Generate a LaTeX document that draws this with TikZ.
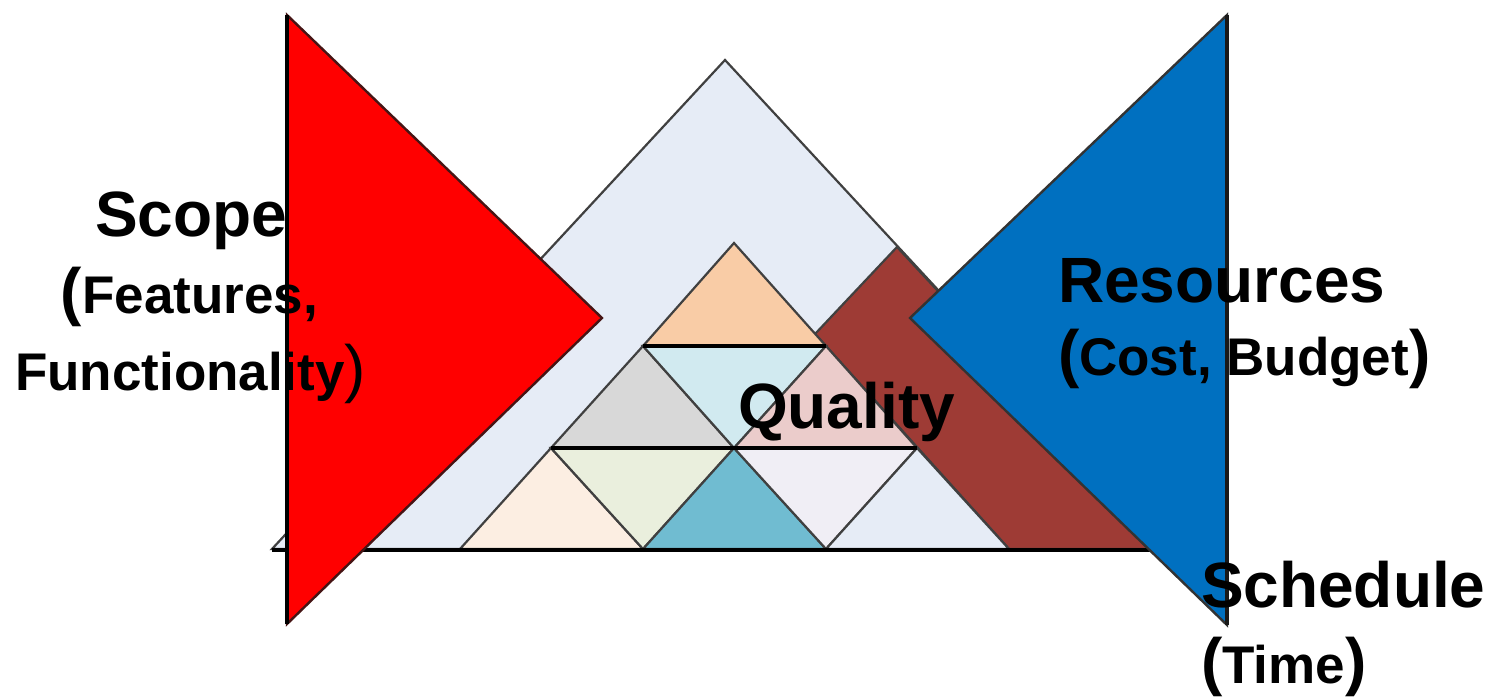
\documentclass[tikz,border=0pt]{standalone}
\usepackage{fontspec}
\setmainfont{Liberation Sans}
\definecolor{bgblue}{RGB}{230,236,246}
\definecolor{brownband}{RGB}{158,59,53}
\definecolor{redtri}{RGB}{255,0,0}
\definecolor{bluetri}{RGB}{0,112,192}
\definecolor{peachA}{RGB}{249,204,166}
\definecolor{cyanA}{RGB}{209,234,240}
\definecolor{grayA}{RGB}{216,216,216}
\definecolor{pinkA}{RGB}{235,204,203}
\definecolor{peachB}{RGB}{252,238,226}
\definecolor{greenA}{RGB}{234,239,221}
\definecolor{tealA}{RGB}{112,188,209}
\definecolor{lavA}{RGB}{240,238,245}
\definecolor{rededge}{RGB}{70,20,20}
\newcommand\bigf{\fontsize{32}{36}\selectfont}
\newcommand\smf{\fontsize{26.5}{30}\selectfont}
\tikzset{
  edge/.style={draw=black!75, line width=1.1pt, line join=miter},
  rowline/.style={draw=black, line width=2pt},
  lbl/.style={inner sep=0pt, outer sep=0pt, anchor=base west, font=\bfseries\bigf, text=black},
}
\begin{document}
\begin{tikzpicture}[x=0.5pt,y=-0.5pt]
\useasboundingbox (0,0) rectangle (1499,700);
% big background triangle
\coordinate (T) at (725,60);
\coordinate (TL) at (272,549);
\coordinate (TR) at (1178,549);
\filldraw[fill=bgblue, edge] (T) -- (TL) -- (TR) -- cycle;
% brown band
\coordinate (b1) at (897,247);
\coordinate (b2) at (815,334);
\coordinate (b3) at (1009,549);
\filldraw[fill=brownband, edge] (b1) -- (b2) -- (b3) -- (TR) -- cycle;
% inner grid
\coordinate (a0) at (734,243);
\coordinate (p1) at (643,346); \coordinate (p2) at (826,346);
\coordinate (q1) at (551,448); \coordinate (q2) at (734,448); \coordinate (q3) at (917,448);
\coordinate (r1) at (460,549); \coordinate (r2) at (643,549); \coordinate (r3) at (826,549); \coordinate (r4) at (1009,549);
\filldraw[fill=peachA, edge] (a0) -- (p1) -- (p2) -- cycle;
\filldraw[fill=grayA, edge] (p1) -- (q1) -- (q2) -- cycle;
\filldraw[fill=cyanA, edge] (p1) -- (p2) -- (q2) -- cycle;
\filldraw[fill=pinkA, edge] (p2) -- (q2) -- (q3) -- cycle;
\filldraw[fill=peachB, edge] (q1) -- (r1) -- (r2) -- cycle;
\filldraw[fill=greenA, edge] (q1) -- (q2) -- (r2) -- cycle;
\filldraw[fill=tealA, edge] (q2) -- (r2) -- (r3) -- cycle;
\filldraw[fill=lavA, edge] (q2) -- (q3) -- (r3) -- cycle;
\filldraw[fill=bgblue, edge] (q3) -- (r3) -- (r4) -- cycle;
\draw[rowline] (p1) -- (p2);
\draw[rowline] (q1) -- (q3);
% base line
\coordinate (bl) at (272,550);
\coordinate (br) at (1150,550);
\draw[rowline, line width=1.6pt] (bl) -- (br);
% red triangle
\coordinate (R1) at (287,15);
\coordinate (R2) at (287,624);
\coordinate (R3) at (602,318);
\filldraw[fill=redtri, draw=rededge, line width=1.2pt] (R1) -- (R3) -- (R2) -- cycle;
\draw[draw=black, line width=2pt] (R1) -- (R2);
% blue triangle
\coordinate (B1) at (1227,15);
\coordinate (B2) at (1227,625);
\coordinate (B3) at (910,318);
\filldraw[fill=bluetri, draw=black!80, line width=1.2pt] (B1) -- (B3) -- (B2) -- cycle;
\draw[draw=black!90, line width=2pt] (B1) -- (B2);
% labels
\node[lbl] (scope) at (95,237) {Scope};
\node[lbl] (feat) at (61,314) {(\smf Features,};
\node[lbl] (func) at (15,390) {\smf Functionality\bigf\mdseries)};
\node[lbl] (qual) at (738,428) {Quality};
\node[lbl] (res) at (1058,302) {Resources};
\node[lbl] (cost) at (1058,375) {(\smf Cost, Budget\bigf)};
\node[lbl] (sched) at (1201,607) {Schedule};
\node[lbl] (time) at (1201,683) {(\smf Time\bigf)};
\end{tikzpicture}
\end{document}
